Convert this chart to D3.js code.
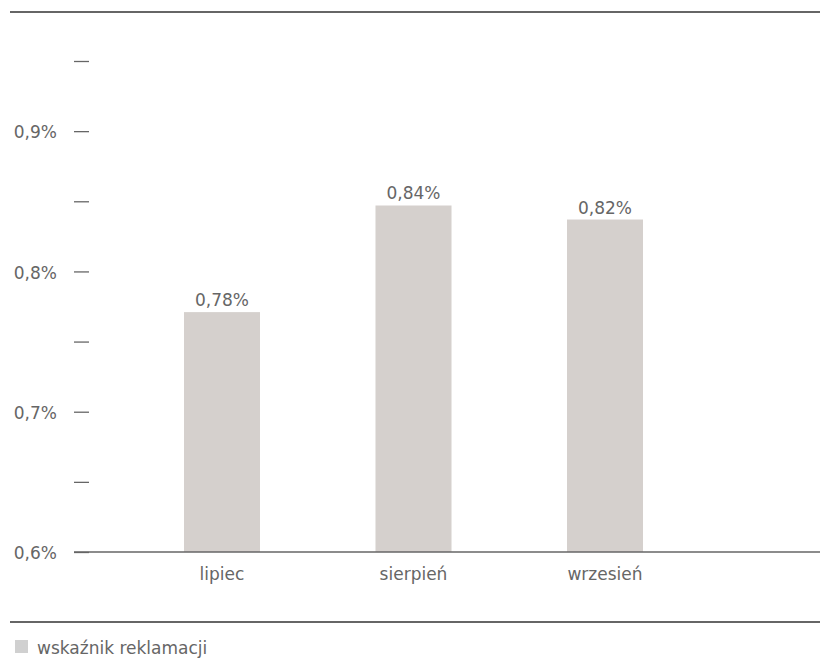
<!DOCTYPE html>
<meta charset="utf-8">

<style>
body { margin: 0; background: #fff; }
text {
  font-family: "DejaVu Sans", sans-serif;
  font-size: 17px;
  fill: #666;
}
</style>

<div id="chart"></div>

<script src="https://d3js.org/d3.v7.min.js"></script>
<script>
  // months, bar heights and their printed labels
  var months = ["lipiec", "sierpień", "wrzesień"];
  var values = [0.771, 0.847, 0.837];
  var valueLabels = ["0,78%", "0,84%", "0,82%"];
  var yTicks = [0.6, 0.65, 0.7, 0.75, 0.8, 0.85, 0.9, 0.95];
  var yTickLabels = {"0.6": "0,6%", "0.7": "0,7%", "0.8": "0,8%", "0.9": "0,9%"};
  var legendLabel = "wskaźnik reklamacji";

  var W = 820, H = 661;
  var barColor = "#d5d0cd",
      lineColor = "#666";

  var svg = d3.select("#chart")
    .append("svg")
    .attr("width", W)
    .attr("height", H);

  var y = d3.scaleLinear().domain([0.6, 0.95]).range([552, 61]);

  var x = d3.scaleBand()
    .domain(months)
    .range([89, 738])
    .paddingInner(0.603)
    .paddingOuter(0.496);

  // top rule
  svg.append("line")
    .attr("x1", 10).attr("x2", W)
    .attr("y1", 12).attr("y2", 12)
    .attr("stroke", lineColor)
    .attr("stroke-width", 2);

  // bars
  svg.append("g")
    .selectAll("rect")
    .data(values)
    .enter()
    .append("rect")
    .attr("x", function(d, i) { return x(months[i]); })
    .attr("y", function(d) { return y(d); })
    .attr("width", x.bandwidth())
    .attr("height", function(d) { return y(0.6) - y(d); })
    .attr("fill", barColor);

  // value labels
  svg.append("g")
    .selectAll("text")
    .data(values)
    .enter()
    .append("text")
    .attr("x", function(d, i) { return x(months[i]) + x.bandwidth() / 2; })
    .attr("y", function(d) { return y(d) - 6; })
    .attr("text-anchor", "middle")
    .text(function(d, i) { return valueLabels[i]; });

  // y axis: short ticks, no domain line
  var yAxis = svg.append("g")
    .attr("transform", "translate(89,0)")
    .call(d3.axisLeft(y)
      .tickValues(yTicks)
      .tickSize(15)
      .tickPadding(17)
      .tickFormat(function(d) { return yTickLabels[String(+d.toFixed(2))] || ""; }));
  yAxis.select(".domain").remove();
  yAxis.selectAll(".tick line")
    .attr("stroke", lineColor)
    .attr("stroke-width", 1.3);
  yAxis.selectAll(".tick text")
    .attr("font-family", null)
    .attr("font-size", null)
    .attr("fill", null)
    .attr("dy", "0.4em");

  // baseline
  svg.append("line")
    .attr("x1", 74).attr("x2", W)
    .attr("y1", y(0.6)).attr("y2", y(0.6))
    .attr("stroke", lineColor)
    .attr("stroke-width", 1.5);

  // x axis labels
  var xAxis = svg.append("g")
    .attr("transform", "translate(0," + y(0.6) + ")")
    .call(d3.axisBottom(x).tickSize(0).tickPadding(16));
  xAxis.select(".domain").remove();
  xAxis.selectAll(".tick text")
    .attr("font-family", null)
    .attr("font-size", null)
    .attr("fill", null);

  // bottom rule + legend
  svg.append("line")
    .attr("x1", 10).attr("x2", W)
    .attr("y1", 622).attr("y2", 622)
    .attr("stroke", lineColor)
    .attr("stroke-width", 2);

  svg.append("rect")
    .attr("x", 15).attr("y", 640)
    .attr("width", 13).attr("height", 13)
    .attr("fill", "#d0d0d0");

  svg.append("text")
    .attr("x", 37).attr("y", 654)
    .text(legendLabel);
</script>
